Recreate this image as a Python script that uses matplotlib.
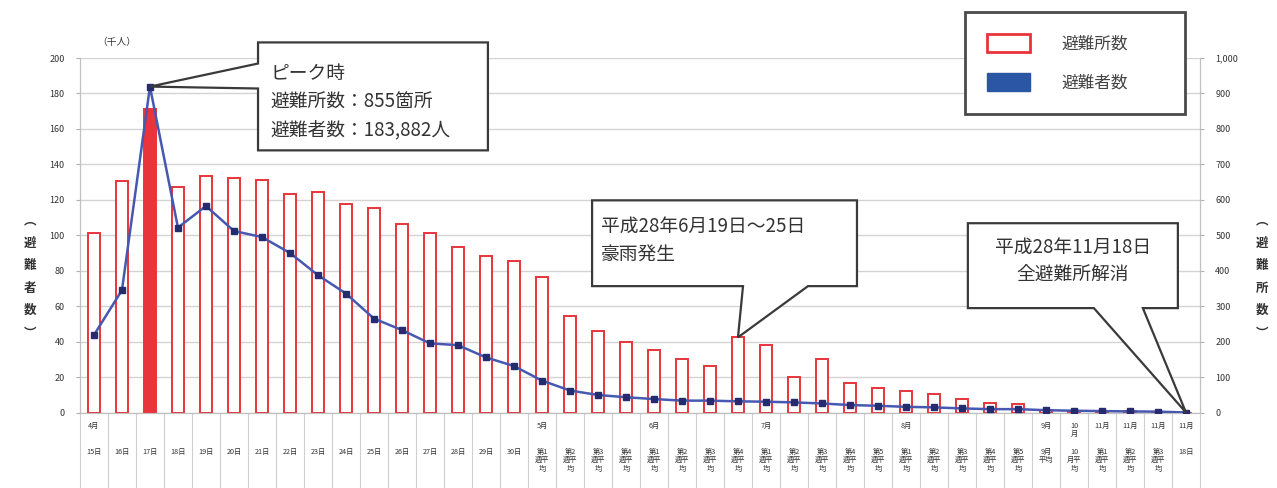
import numpy as np
import matplotlib
matplotlib.use("Agg")
import matplotlib.pyplot as plt
import matplotlib.transforms as mtransforms
from matplotlib.patches import Patch, Polygon

plt.rcParams['font.family'] = ['Noto Sans CJK JP', 'DejaVu Sans']

# -----------------------------
# Data
# -----------------------------
# shelters open (right axis, 箇所)
shelters = [505, 653, 855, 636, 666, 661, 655, 615, 622, 589, 578, 533, 505, 467, 441, 427,
            383, 271, 230, 198, 176, 150, 130, 212, 190, 100, 152, 84, 70, 60, 52, 38, 26, 24,
            6, 4, 3, 3, 2, 0]
# evacuees (left axis, 千人)
evacuees = [43.7, 69.0, 183.882, 104.3, 116.5, 102.4, 99.0, 90.0, 77.5, 67.1, 53.0, 46.5, 39.0, 38.0, 31.1, 26.2,
            18.0, 12.4, 9.9, 8.6, 7.6, 6.7, 6.7, 6.3, 6.1, 5.7, 5.1, 4.2, 3.8, 3.2, 2.9, 2.3, 1.9, 1.9,
            1.3, 1.0, 0.8, 0.6, 0.5, 0.0]

month_labels = ['4月'] + [''] * 15 + \
               ['5月', '', '', ''] + \
               ['6月', '', '', ''] + \
               ['7月', '', '', '', ''] + \
               ['8月', '', '', '', ''] + \
               ['9月', '10\n月', '11月', '11月', '11月', '11月']

week = ['第1\n週平\n均', '第2\n週平\n均', '第3\n週平\n均', '第4\n週平\n均', '第5\n週平\n均']
day_labels = ['15日', '16日', '17日', '18日', '19日', '20日', '21日', '22日',
              '23日', '24日', '25日', '26日', '27日', '28日', '29日', '30日'] + \
             week[:4] + week[:4] + week[:5] + week[:5] + \
             ['9月\n平均', '10\n月平\n均', week[0], week[1], week[2], '18日']

left_ticks = list(range(0, 201, 20))
right_ticks = list(range(0, 1001, 100))

RED = '#e8343a'
LINE = '#4658b0'
MARK = '#262b6e'
GRID = '#d4d4d4'

x = np.arange(len(shelters))
peak = int(np.argmax(shelters))

# -----------------------------
# Figure
# -----------------------------
fig = plt.figure(figsize=(12.77, 4.88), dpi=100)
ax = fig.add_axes([0.0626, 0.1547, 0.8771, 0.7264])
ax2 = ax.twinx()
ax.set_zorder(ax2.get_zorder() + 1)
ax.patch.set_visible(False)

# bars (shelters) on the right axis
faces = [RED if i == peak else 'white' for i in range(len(shelters))]
ax2.bar(x, shelters, width=0.43, color=faces, edgecolor=RED, linewidth=1.4, zorder=3)

# line (evacuees) on the left axis
ax.plot(x, evacuees, color=LINE, lw=1.8, marker='s', ms=4.5,
        mfc=MARK, mec=MARK, zorder=5)

ax.set_xlim(-0.5, len(shelters) - 0.5)
ax.set_ylim(0, 200)
ax2.set_ylim(0, 1000)
ax.set_yticks(left_ticks)
ax2.set_yticks(right_ticks)
ax2.set_yticklabels([f'{v:,}' for v in right_ticks])
ax.set_xticks([])

ax2.grid(axis='y', color=GRID, lw=1, zorder=0)
ax2.set_axisbelow(True)

for a in (ax, ax2):
    a.spines['top'].set_visible(False)
    for s in ('left', 'right', 'bottom'):
        a.spines[s].set_color('#c0c0c0')
    a.tick_params(axis='y', labelsize=6.5, labelcolor='#333333', color='#b0b0b0', length=3)
ax.tick_params(axis='y', pad=8)
ax2.tick_params(axis='y', pad=8)

# -----------------------------
# Category table under the axis
# -----------------------------
trans = mtransforms.blended_transform_factory(ax.transData, ax.transAxes)
for i in range(len(shelters)):
    ax.text(i, -0.028, month_labels[i], transform=trans, ha='center', va='top',
            fontsize=5.2, color='#333333', linespacing=1.0)
    ax.text(i, -0.1, day_labels[i], transform=trans, ha='center', va='top',
            fontsize=5.2, color='#333333', linespacing=1.05)
for b in np.arange(len(shelters) + 1) - 0.5:
    ax.plot([b, b], [0, -0.22], transform=trans, color='#cfcfcf', lw=0.8, clip_on=False)

# -----------------------------
# Callouts
# -----------------------------
def callout(verts, text, tx, ty, ha):
    poly = Polygon(verts, closed=True, facecolor='white', edgecolor='#3a3a3a',
                   lw=1.6, zorder=10, clip_on=False)
    ax.add_patch(poly)
    ax.text(tx, ty, text, ha=ha, va='top', fontsize=13.5, color='#333333',
            linespacing=1.45, zorder=11, clip_on=False)

# peak
tip = (peak, evacuees[peak])
callout([(5.86, 208.8), (14.07, 208.8), (14.07, 147.9), (5.86, 147.9),
         (5.86, 182.8), tip, (5.86, 196.9)],
        'ピーク時\n避難所数：855箇所\n避難者数：183,882人', 6.3, 197, 'left')

# heavy rain
rain = 23
tip = (rain, shelters[rain] / 5)
callout([(17.79, 119.7), (27.25, 119.7), (27.25, 71.3), (25.5, 71.3), tip,
         (23.18, 71.3), (17.79, 71.3)],
        '平成28年6月19日～25日\n豪雨発生', 18.1, 111, 'left')

# all closed
last = len(shelters) - 1
tip = (last, evacuees[last])
callout([(31.21, 106.8), (38.71, 106.8), (38.71, 58.9), (37.46, 58.9), tip,
         (35.71, 58.9), (31.21, 58.9)],
        '平成28年11月18日\n全避難所解消', 34.96, 99, 'center')

# -----------------------------
# Legend
# -----------------------------
handles = [Patch(facecolor='white', edgecolor=RED, linewidth=2, label='避難所数'),
           Patch(facecolor='#2b55a5', edgecolor='#2b55a5', label='避難者数')]
leg = fig.legend(handles=handles, loc='upper left', mode='expand',
                 bbox_to_anchor=(965 / 1277, 1 - 12 / 488, 220 / 1277, 0.0),
                 borderaxespad=0,
                 fontsize=12, handlelength=2.6, handleheight=1.3, handletextpad=1.9,
                 labelspacing=1.25, borderpad=1.3, fancybox=False, framealpha=1)
leg.get_frame().set_edgecolor('#4a4a4a')
leg.get_frame().set_linewidth(2)
for t in leg.get_texts():
    t.set_color('#444444')

# -----------------------------
# Axis titles
# -----------------------------
fig.text(117 / 1277, 1 - 42 / 488, '（千人）', ha='center', va='center', fontsize=7, color='#333333')
fig.text(30 / 1277, 1 - 277 / 488, '︵\n避\n難\n者\n数\n︶', ha='center', va='center',
         fontsize=9, fontweight='bold', color='#333333', linespacing=1.95)
fig.text(1262 / 1277, 1 - 277 / 488, '︵\n避\n難\n所\n数\n︶', ha='center', va='center',
         fontsize=9, fontweight='bold', color='#333333', linespacing=1.95)

fig.savefig('out.png', dpi=100, facecolor='white')
